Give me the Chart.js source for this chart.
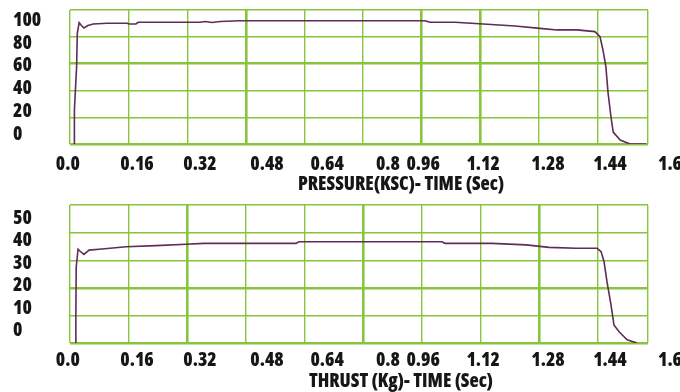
<!DOCTYPE html>
<html>
<head>
<meta charset="utf-8">
<script src="https://cdn.jsdelivr.net/npm/chart.js@4.4.1/dist/chart.umd.min.js"></script>
<style>
  html, body { margin: 0; padding: 0; background: #fff; }
  #wrap { position: relative; width: 680px; height: 392px; overflow: hidden; }
  .panel { position: absolute; left: 0; width: 680px; height: 196px; }
  .cap {
    position: absolute; left: 401px; transform: translateX(-50%);
    font-family: 'Open Sans', sans-serif; font-weight: 800; font-stretch: 75%;
    font-size: 19px; line-height: 20px; color: #161616; white-space: nowrap;
  }
</style>
</head>
<body>
<div id="wrap">
  <div class="panel" style="top:0"><canvas id="pressure" width="680" height="196"></canvas></div>
  <div class="panel" style="top:196px"><canvas id="thrust" width="680" height="196"></canvas></div>
  <div class="cap" style="top:173px">PRESSURE(KSC)- TIME (Sec)</div>
  <div class="cap" style="top:370px">THRUST (Kg)- TIME (Sec)</div>
</div>
<script>
// time axis (sec)
const xTickLabels = ['0.0', '0.16', '0.32', '0.48', '0.64', '0.8', '0.96', '1.12', '1.28', '1.44', '1.6'];
// where each printed label sits along the time axis (labels are not on the grid in the original)
const xTickLabelAt = [-0.006, 0.183, 0.355, 0.538, 0.702, 0.868, 0.964, 1.128, 1.305, 1.474, 1.638];
const gridStep = 0.16;
const timeMax = 1.578;

// pressure (ksc) vs time
const pressureTicks = [0, 20, 40, 60, 80, 100];
const pressureTime = [0.011, 0.012, 0.018, 0.020, 0.025, 0.030, 0.038, 0.049, 0.063, 0.101,
  0.156, 0.161, 0.180, 0.186, 0.355, 0.369, 0.388, 0.410, 0.464, 0.969,
  0.983, 1.051, 1.128, 1.215, 1.283, 1.330, 1.384, 1.433, 1.447, 1.455,
  1.463, 1.469, 1.477, 1.483, 1.502, 1.529, 1.573];
const pressureValues = [-8.5, 21.4, 59.1, 89.0, 98.1, 96.0, 93.4, 95.6, 96.9, 97.5,
  97.5, 96.9, 96.9, 98.4, 98.4, 99.1, 98.2, 99.1, 99.8, 99.8,
  98.4, 98.4, 96.9, 95.2, 93.1, 91.7, 91.7, 90.2, 85.8, 74.1,
  59.4, 36.3, 15.2, 2.0, -5.0, -8.5, -8.5];

// thrust (kg) vs time
const thrustTicks = [0, 10, 20, 30, 40, 50];
const thrustTime = [0.014, 0.016, 0.017, 0.022, 0.027, 0.038, 0.052, 0.087, 0.153, 0.235,
  0.317, 0.366, 0.617, 0.625, 1.015, 1.024, 1.152, 1.245, 1.308, 1.381,
  1.439, 1.450, 1.458, 1.466, 1.477, 1.485, 1.499, 1.521, 1.548];
const thrustValues = [-5.3, 7.1, 28.4, 36.3, 35.5, 34.0, 35.9, 36.4, 37.4, 37.9,
  38.5, 38.9, 38.9, 39.6, 39.6, 38.9, 38.9, 38.2, 37.1, 36.7,
  36.7, 35.2, 30.8, 21.9, 11.6, 2.7, -0.3, -3.9, -5.3];

const GRID = '#88c43c';
const LINE = '#5e2c56';
const TEXT = '#161616';
// condensed heavy face, like the typed labels of the original
const tickFont = { family: "'Open Sans', sans-serif", size: 19, weight: '800 condensed' };

const gridX = [];
for (let k = 0; k * gridStep < timeMax - 0.05; k++) gridX.push(+(k * gridStep).toFixed(2));
gridX.push(timeMax);

function noPad(s) {
  s.paddingLeft = 0; s.paddingRight = 0; s.paddingTop = 0; s.paddingBottom = 0;
}

function makeChart(id, times, values, yTicks, yMin, yMax, thickX, thickY, padTop, bottomH, labelPad) {
  const points = times.map((t, i) => ({ x: t, y: values[i] }));
  return new Chart(document.getElementById(id), {
    type: 'line',
    data: {
      datasets: [{
        data: points,
        borderColor: LINE,
        borderWidth: 1.6,
        pointRadius: 0,
        tension: 0,
        fill: false
      }]
    },
    options: {
      responsive: false,
      animation: false,
      devicePixelRatio: 1,
      layout: { padding: { left: 13, right: 32, top: padTop, bottom: 0 } },
      plugins: { legend: { display: false }, tooltip: { enabled: false } },
      scales: {
        x: {
          type: 'linear', position: 'bottom', min: 0, max: timeMax,
          afterBuildTicks: s => { s.ticks = gridX.map(v => ({ value: v })); },
          ticks: { display: false },
          grid: { color: GRID, drawTicks: false, lineWidth: c => thickX.includes(c.index) ? 2.6 : 1.4 },
          border: { display: false },
          afterFit: s => { s.height = 0; noPad(s); }
        },
        xl: {
          type: 'linear', position: 'bottom', min: 0, max: timeMax,
          afterBuildTicks: s => { s.ticks = xTickLabelAt.map(v => ({ value: v })); },
          ticks: {
            autoSkip: false, maxRotation: 0, padding: labelPad,
            font: tickFont, color: TEXT,
            callback: (v, i) => xTickLabels[i]
          },
          grid: { display: false },
          border: { display: false },
          afterFit: s => { s.height = bottomH; noPad(s); }
        },
        y: {
          type: 'linear', position: 'left', min: yMin, max: yMax,
          afterBuildTicks: s => { s.ticks = yTicks.map(v => ({ value: v })); },
          ticks: { crossAlign: 'far', font: tickFont, color: TEXT, padding: 4 },
          grid: { display: false },
          border: { display: false },
          afterFit: s => { s.width = 57; noPad(s); }
        },
        yg: {
          type: 'linear', position: 'left', min: 0, max: 5,
          ticks: { display: false, stepSize: 1 },
          grid: { color: GRID, drawTicks: false, lineWidth: c => thickY.includes(c.index) ? 2.6 : 1.4 },
          border: { display: false },
          afterFit: s => { s.width = 0; noPad(s); }
        }
      }
    }
  });
}

makeChart('pressure', pressureTime, pressureValues, pressureTicks, -8.5, 109.2, [3, 6, 7], [0, 3], 10, 52, 1);
makeChart('thrust', thrustTime, thrustValues, thrustTicks, -5.3, 55.9, [2, 5, 8], [0, 2], 9, 49, -2);
</script>
</body>
</html>
